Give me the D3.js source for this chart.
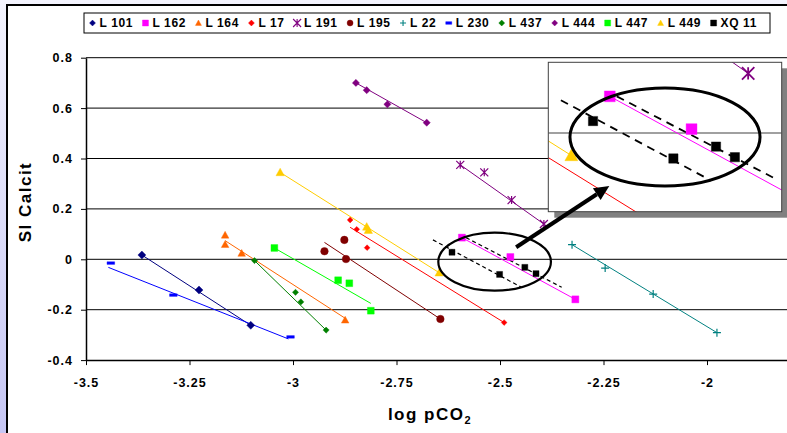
<!DOCTYPE html>
<html><head><meta charset="utf-8">
<script src="https://cdn.jsdelivr.net/npm/d3@7"></script>
<style>html,body{margin:0;padding:0;overflow:hidden;background:#fff}</style>
</head><body><svg id="c" width="787" height="433"></svg>
<script>
// ---------- data ----------
const xTicks = [-3.5, -3.25, -3, -2.75, -2.5, -2.25, -2];
const yTicks = [-0.4, -0.2, 0, 0.2, 0.4, 0.6, 0.8];
const xTitle = "log pCO";
const yTitle = "SI Calcit";
const seriesNames = ["L 101","L 162","L 164","L 17","L 191","L 195","L 22","L 230","L 437","L 444","L 447","L 449","XQ 11"];

const L101 = [[-3.365,0.017],[-3.227,-0.122],[-3.102,-0.262]];
const L162 = [[-2.592,0.086],[-2.475,0.009],[-2.318,-0.159]];
const L164 = [[-3.164,0.096],[-3.164,0.059],[-3.124,0.024],[-2.874,-0.241]];
const L17  = [[-2.862,0.156],[-2.846,0.119],[-2.821,0.046],[-2.490,-0.251]];
const L191 = [[-2.596,0.375],[-2.538,0.345],[-2.472,0.235],[-2.394,0.140]];
const L195 = [[-2.876,0.077],[-2.924,0.032],[-2.872,0.001],[-2.644,-0.237]];
const L22  = [[-2.326,0.058],[-2.246,-0.035],[-2.130,-0.138],[-1.976,-0.291]];
const L230 = [[-3.440,-0.015],[-3.289,-0.142],[-3.006,-0.308]];
const L437 = [[-3.093,-0.005],[-2.994,-0.131],[-2.981,-0.169],[-2.920,-0.281]];
const L444 = [[-2.848,0.700],[-2.822,0.671],[-2.772,0.615],[-2.677,0.542]];
const L447 = [[-3.045,0.045],[-2.891,-0.083],[-2.864,-0.095],[-2.812,-0.204]];
const L449 = [[-3.031,0.345],[-2.822,0.129],[-2.818,0.116],[-2.647,-0.053]];
const XQ11 = [[-2.616,0.028],[-2.501,-0.060],[-2.440,-0.032],[-2.413,-0.057]];

// trend lines (end points)
const L101_line = [[-3.365,0.017],[-3.102,-0.262]];
const L162_line = [[-2.592,0.086],[-2.318,-0.159]];
const L164_line = [[-3.164,0.074],[-2.874,-0.234]];
const L17_line  = [[-2.862,0.127],[-2.490,-0.251]];
const L191_line = [[-2.596,0.375],[-2.394,0.140]];
const L195_line = [[-2.924,0.067],[-2.644,-0.237]];
const L22_line  = [[-2.326,0.058],[-1.976,-0.291]];
const L230_line = [[-3.446,-0.032],[-3.011,-0.316]];
const L437_line = [[-3.093,-0.005],[-2.920,-0.281]];
const L444_line = [[-2.848,0.700],[-2.677,0.542]];
const L447_line = [[-3.045,0.045],[-2.812,-0.175]];
const L449_line = [[-3.031,0.345],[-2.647,-0.053]];
const XQ11_dashA = [[-2.662,0.077],[-2.447,-0.112]];
const XQ11_dashB = [[-2.582,0.086],[-2.351,-0.111]];

// annotation (data units)
const ellipseCenter = [-2.513, -0.0095];
const ellipseRadii = [0.136, 0.115];
const arrowFrom = [-2.461, 0.048];
const arrowTo = [-2.236, 0.291];
const insetXDomain = [-2.68, -2.346];
const insetYDomain = [-0.185, 0.166];

// ---------- styling ----------
const seriesColors = ["#000080","#FF00FF","#FF6600","#FF0000","#800080","#800000","#008080","#0000FF","#008000","#800080","#00FF00","#FFCC00","#000000"];
const seriesSymbols = ["diamond","square","triangle","diamond","star","circle","plus","dash","diamond","diamond","square","triangle","square"];
const symbolSizes = [4,3.5,3.8,2.9,4,3.8,4,3.8,3.1,3.6,3.4,4.2,3];
const pointsList = [L101,L162,L164,L17,L191,L195,L22,L230,L437,L444,L447,L449,XQ11];
const linesList = [L101_line,L162_line,L164_line,L17_line,L191_line,L195_line,L22_line,L230_line,L437_line,L444_line,L447_line,L449_line,null];

const series = seriesNames.map((n,i)=>({name:n,color:seriesColors[i],sym:seriesSymbols[i],size:symbolSizes[i],pts:pointsList[i],line:linesList[i]}));

const FONT = "'Liberation Sans', Arial, sans-serif";
const svg = d3.select("#c");

// background
const defs = svg.append("defs");
const grad = defs.append("linearGradient").attr("id","bg").attr("x1",0).attr("y1",0).attr("x2",0).attr("y2",1);
grad.append("stop").attr("offset","0%").attr("stop-color","#F4F4FE");
grad.append("stop").attr("offset","100%").attr("stop-color","#C6C6F4");
svg.append("rect").attr("width",787).attr("height",433).attr("fill","url(#bg)");
svg.append("rect").attr("x",7).attr("y",5).attr("width",800).attr("height",450)
  .attr("fill","#fff").attr("stroke","#000").attr("stroke-width",2);

// scales
const x = d3.scaleLinear().domain([-3.5,-1.8]).range([86, 789.8]);
const y = d3.scaleLinear().domain([-0.4,0.8]).range([360.1, 57.7]);

// gridlines
svg.append("g").selectAll("line").data(yTicks.filter(t=>t>-0.4)).join("line")
  .attr("x1",86).attr("x2",787).attr("y1",d=>y(d)).attr("y2",d=>y(d))
  .attr("stroke","#000").attr("stroke-width",1);

// axes
const xAxis = svg.append("g").attr("transform",`translate(0,${y(-0.4)})`)
  .call(d3.axisBottom(x).tickValues(xTicks).tickSize(5).tickSizeOuter(0).tickFormat(d=>String(d)));
xAxis.select(".domain").attr("stroke","#000").attr("stroke-width",1.5);
xAxis.selectAll(".tick line").attr("stroke","#000");
xAxis.selectAll("text").attr("font-family",FONT).attr("font-weight","bold").attr("font-size","12.5px")
  .attr("letter-spacing","1px").attr("fill","#000").attr("dy","0").attr("y",27);

const yAxis = svg.append("g").attr("transform",`translate(86,0)`)
  .call(d3.axisLeft(y).tickValues(yTicks).tickSize(5).tickSizeOuter(0).tickFormat(d=>String(d)));
yAxis.select(".domain").attr("stroke","#000").attr("stroke-width",1.5);
yAxis.selectAll(".tick line").attr("stroke","#000");
yAxis.selectAll("text").attr("font-family",FONT).attr("font-weight","bold").attr("font-size","12.5px")
  .attr("letter-spacing","1px").attr("fill","#000").attr("x",-13);

// titles
svg.append("text").attr("transform","translate(31,202) rotate(-90)").attr("text-anchor","middle")
  .attr("font-family",FONT).attr("font-weight","bold").attr("font-size","17px").attr("letter-spacing","1.5px")
  .text(yTitle);
const xt = svg.append("text").attr("x",430).attr("y",420).attr("text-anchor","middle")
  .attr("font-family",FONT).attr("font-weight","bold").attr("font-size","17px").attr("letter-spacing","1.5px");
xt.append("tspan").text(xTitle);
xt.append("tspan").attr("font-size","11px").attr("dy","4").text("2");

// symbol helper
function symPath(type, s){
  switch(type){
    case "diamond": return `M0,${-s}L${s},0L0,${s}L${-s},0Z`;
    case "square": return `M${-s},${-s}h${2*s}v${2*s}h${-2*s}Z`;
    case "triangle": return `M0,${-s}L${s},${s*0.8}L${-s},${s*0.8}Z`;
    case "circle": return d3.symbol(d3.symbolCircle, Math.PI*s*s)();
    case "star": return `M${-s},${-s}L${s},${s}M${-s},${s}L${s},${-s}M0,${-s}L0,${s}`;
    case "plus": return `M${-s},0L${s},0M0,${-s}L0,${s}`;
    case "dash": return `M${-s},-1.3h${2*s}v2.6h${-2*s}Z`;
  }
}
function drawSym(g, type, s, color, sw){
  const stroked = (type==="star"||type==="plus");
  return g.append("path").attr("d",symPath(type,s))
    .attr("fill",stroked?"none":color).attr("stroke",color).attr("stroke-width",stroked?(sw||1.2):0.4);
}

function drawContent(g, sx, sy, k){
  // lines
  series.forEach(s=>{
    if(!s.line) return;
    g.append("line").attr("x1",sx(s.line[0][0])).attr("y1",sy(s.line[0][1]))
      .attr("x2",sx(s.line[1][0])).attr("y2",sy(s.line[1][1]))
      .attr("stroke",s.color).attr("stroke-width",1);
  });
  [XQ11_dashA, XQ11_dashB].forEach(l=>{
    g.append("line").attr("x1",sx(l[0][0])).attr("y1",sy(l[0][1]))
      .attr("x2",sx(l[1][0])).attr("y2",sy(l[1][1]))
      .attr("stroke","#000").attr("stroke-width",k>1?1.8:1.2)
      .attr("stroke-dasharray",k>1?"8,6":"4,3");
  });
  // markers
  series.forEach(s=>{
    s.pts.forEach(p=>{
      const m = drawSym(g, s.sym, s.size*k, s.color, k>1?1.8:1.2);
      m.attr("transform",`translate(${sx(p[0])},${sy(p[1])})`);
    });
  });
  // ellipse
  g.append("ellipse").attr("cx",sx(ellipseCenter[0])).attr("cy",sy(ellipseCenter[1]))
    .attr("rx",Math.abs(sx(ellipseCenter[0]+ellipseRadii[0])-sx(ellipseCenter[0])))
    .attr("ry",Math.abs(sy(ellipseCenter[1]+ellipseRadii[1])-sy(ellipseCenter[1])))
    .attr("fill","none").attr("stroke","#000").attr("stroke-width",k>1?3:2.2);
}

drawContent(svg.append("g"), x, y, 1);

// inset
const xi = d3.scaleLinear().domain(insetXDomain).range([548.3, 781.7]);
const yi = d3.scaleLinear().domain(insetYDomain).range([211.7, 62.3]);
const ix0 = xi.range()[0], ix1 = xi.range()[1], iy0 = yi.range()[1], iy1 = yi.range()[0];
svg.append("rect").attr("x",ix0+6).attr("y",iy0+6).attr("width",ix1-ix0).attr("height",iy1-iy0).attr("fill","#808080");
svg.append("rect").attr("x",ix0).attr("y",iy0).attr("width",ix1-ix0).attr("height",iy1-iy0).attr("fill","#fff");
defs.append("clipPath").attr("id","ic").append("rect").attr("x",ix0).attr("y",iy0).attr("width",ix1-ix0).attr("height",iy1-iy0);
const ig = svg.append("g").attr("clip-path","url(#ic)");
yTicks.forEach(t=>{
  if(t>=insetYDomain[0] && t<=insetYDomain[1])
    ig.append("line").attr("x1",ix0).attr("x2",ix1).attr("y1",yi(t)).attr("y2",yi(t)).attr("stroke","#808080").attr("stroke-width",1.5);
});
drawContent(ig, xi, yi, 1.55);
svg.append("rect").attr("x",ix0).attr("y",iy0).attr("width",ix1-ix0).attr("height",iy1-iy0)
  .attr("fill","none").attr("stroke","#404040").attr("stroke-width",1);

// arrow
(function(){
  const x0=x(arrowFrom[0]), y0=y(arrowFrom[1]), x1=x(arrowTo[0]), y1=y(arrowTo[1]);
  const ang=Math.atan2(y1-y0,x1-x0), L=15, W=7;
  const bx=x1-L*Math.cos(ang), by=y1-L*Math.sin(ang);
  svg.append("line").attr("x1",x0).attr("y1",y0).attr("x2",bx).attr("y2",by).attr("stroke","#000").attr("stroke-width",4);
  const px=-Math.sin(ang), py=Math.cos(ang);
  svg.append("path").attr("d",`M${x1},${y1}L${bx+W*px},${by+W*py}L${bx-W*px},${by-W*py}Z`).attr("fill","#000");
})();

// legend
const lg = svg.append("g");
const lbox = lg.append("rect").attr("x",84).attr("y",13).attr("width",686).attr("height",20)
  .attr("fill","#fff").attr("stroke","#000").attr("stroke-width",1);
let cx = 92.5;
series.forEach(s=>{
  const m = drawSym(lg, s.sym, s.sym==="star"?4:3, s.color, 1.1);
  m.attr("transform",`translate(${cx},23)`);
  const t = lg.append("text").attr("x",cx+7).attr("y",27.3).attr("font-family",FONT).attr("font-weight","bold")
    .attr("font-size","12px").attr("letter-spacing","0.6px").text(s.name);
  const w = t.node().getBBox().width;
  cx = cx + 7 + w + 12.5;
});
</script></body></html>
